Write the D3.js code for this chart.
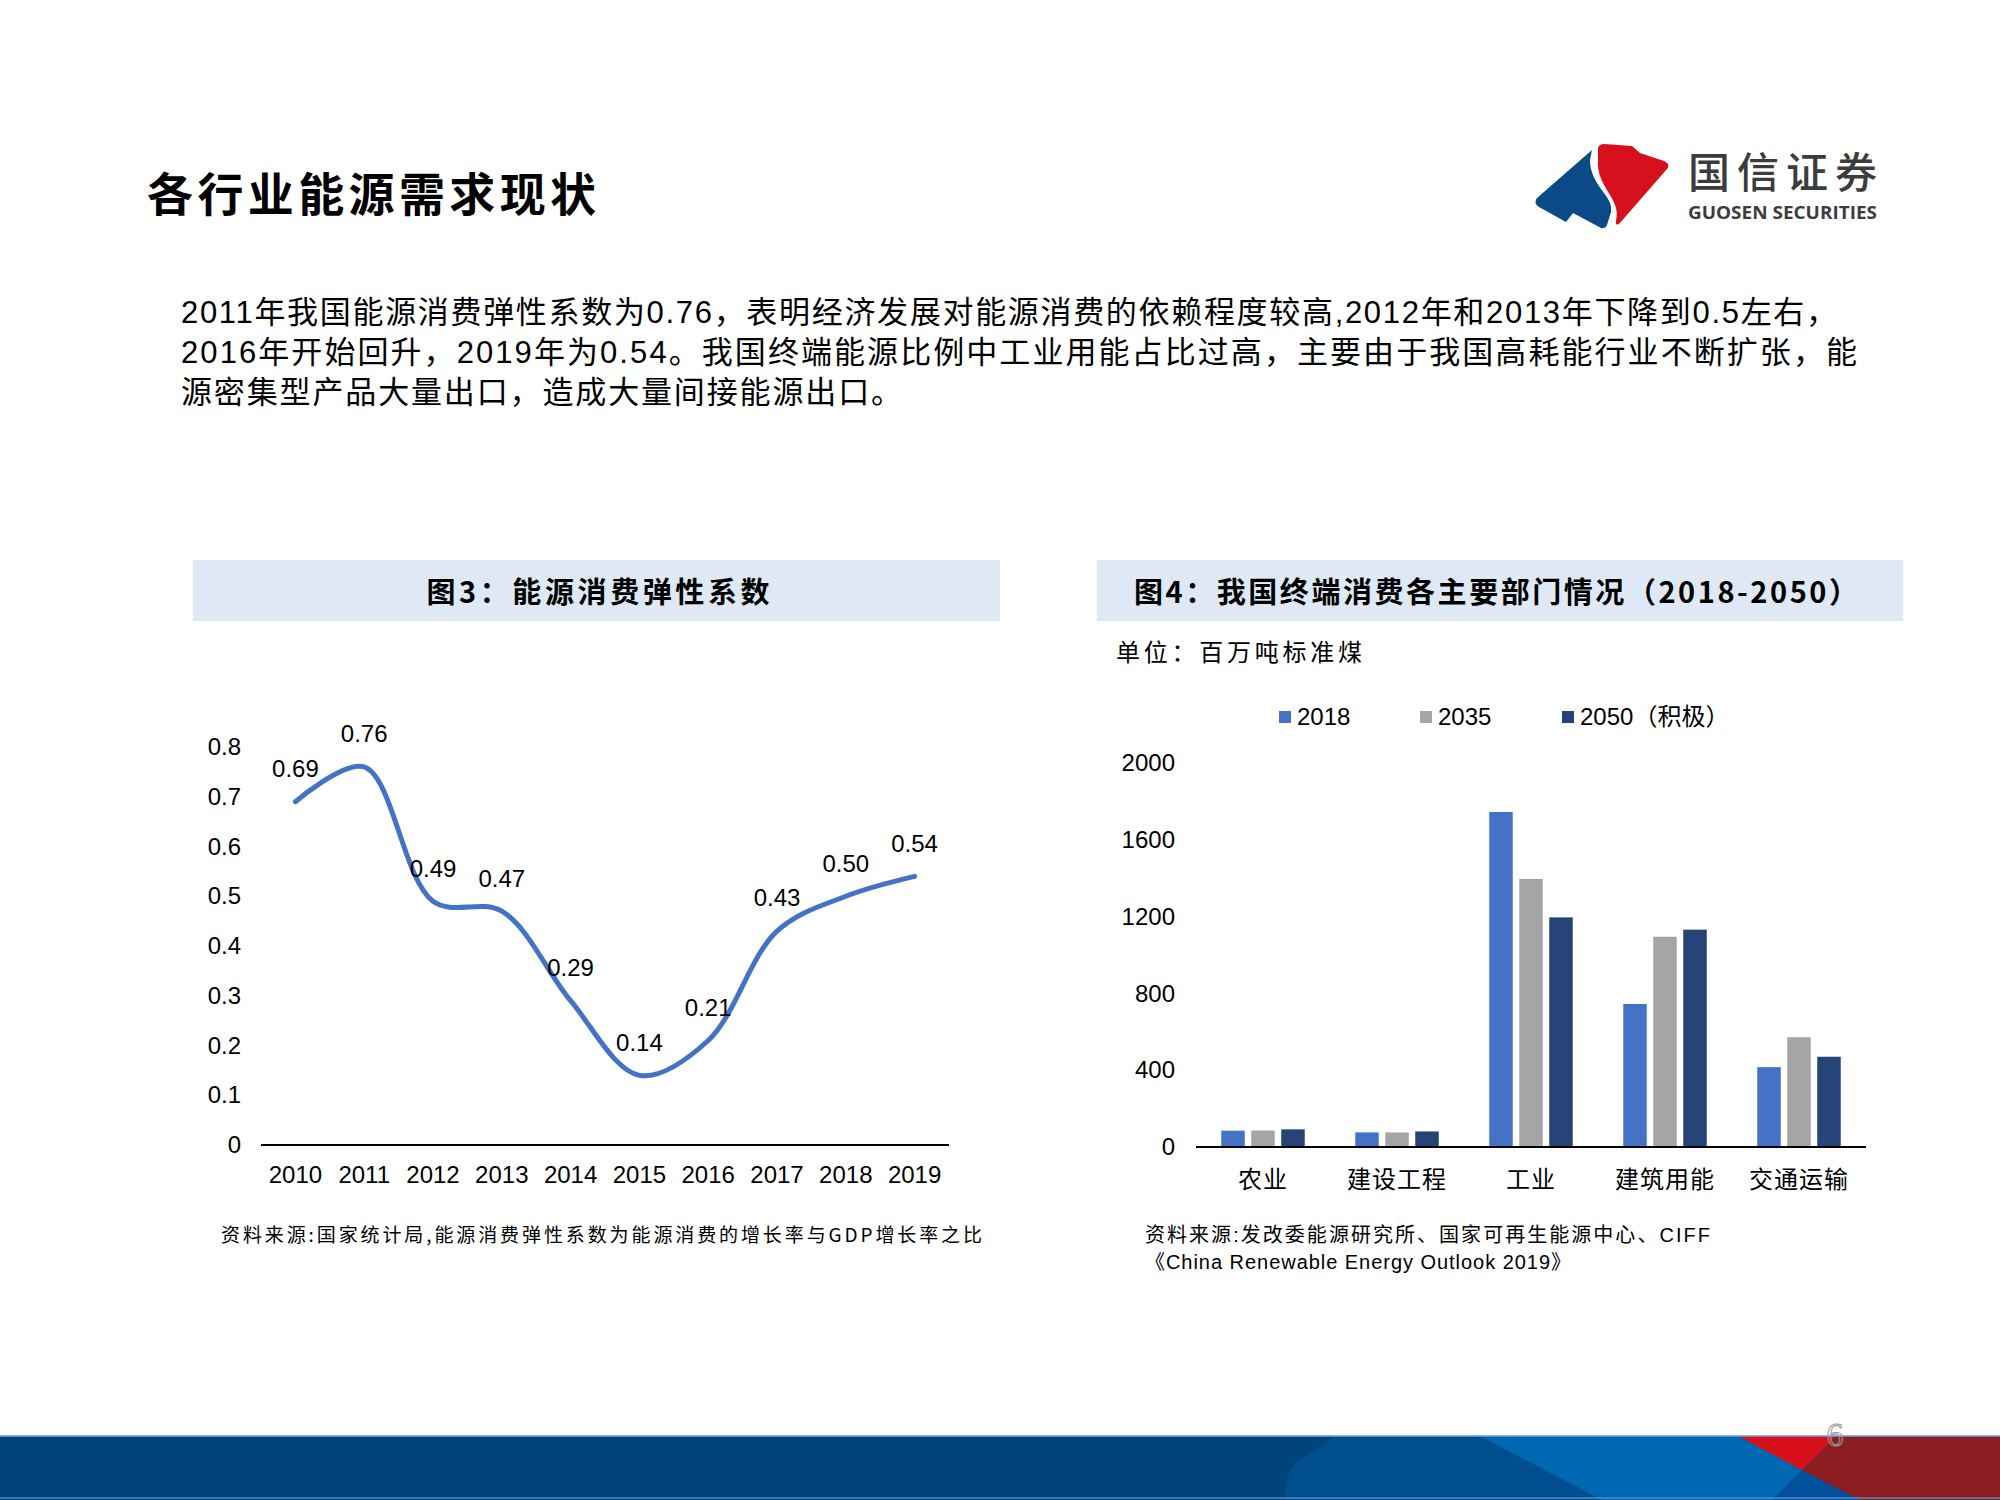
<!DOCTYPE html>
<html><head><meta charset="utf-8">
<script src="https://cdn.jsdelivr.net/npm/d3@7/dist/d3.min.js"></script>
<style>body{margin:0;background:#fff}svg{display:block}</style>
</head><body><svg id="c" width="2000" height="1500"></svg>
<script>
// ---------- data ----------
const years = ["2010","2011","2012","2013","2014","2015","2016","2017","2018","2019"];
const elasticity = [0.69,0.76,0.49,0.47,0.29,0.14,0.21,0.43,0.50,0.54];
const elasticityLabels = ["0.69","0.76","0.49","0.47","0.29","0.14","0.21","0.43","0.50","0.54"];
const elasticityTicks = [0,0.1,0.2,0.3,0.4,0.5,0.6,0.7,0.8];
const elasticityTickLabels = ["0","0.1","0.2","0.3","0.4","0.5","0.6","0.7","0.8"];

const sectors = ["农业","建设工程","工业","建筑用能","交通运输"];
const seriesNames = ["2018","2035","2050（积极）"];
const values2018 = [85,76,1745,745,416];
const values2035 = [86,76,1396,1095,572];
const values2050 = [92,81,1196,1132,470];
const sectorTicks = [0,400,800,1200,1600,2000];
const sectorTickLabels = ["0","400","800","1200","1600","2000"];

const pageTitle = "各行业能源需求现状";
const paragraph = [
  "2011年我国能源消费弹性系数为0.76，表明经济发展对能源消费的依赖程度较高,2012年和2013年下降到0.5左右，",
  "2016年开始回升，2019年为0.54。我国终端能源比例中工业用能占比过高，主要由于我国高耗能行业不断扩张，能",
  "源密集型产品大量出口，造成大量间接能源出口。"
];
const chart3Title = "图3：能源消费弹性系数";
const chart4Title = "图4：我国终端消费各主要部门情况（2018-2050）";
const chart4Unit = "单位：百万吨标准煤";
const chart3Source = "资料来源:国家统计局,能源消费弹性系数为能源消费的增长率与GDP增长率之比";
const chart4Source = ["资料来源:发改委能源研究所、国家可再生能源中心、CIFF","《China Renewable Energy Outlook 2019》"];

// ---------- drawing ----------
const svg = d3.select("#c");
const FONT = "'Liberation Sans','Noto Sans CJK SC',Arial,sans-serif";
const CJK = "'Noto Sans CJK SC','Liberation Sans',sans-serif";

svg.append("rect").attr("width",2000).attr("height",1500).attr("fill","#fff");

// page title
svg.append("text").attr("x",147).attr("y",211).text(pageTitle)
  .attr("font-family",CJK).attr("font-weight",700).attr("font-size",46)
  .attr("textLength",449).attr("lengthAdjust","spacing").attr("fill","#000");

// logo
const logo = svg.append("g");
logo.append("path").attr("d","M1537,198 Q1533,203 1539,207 L1566,222 L1573,213 L1601,228 Q1605,229 1607,225 L1611,212 C1614,196 1590,186 1590,160 L1592,150 Z").attr("fill","#0a4a86");
logo.append("path").attr("d","M1598,148 Q1599,144 1604,144 L1632,146 L1640,153 L1664,161 Q1671,164 1667,169 L1619,224 Q1615,226 1616,221 C1622,198 1596,188 1598,160 Z").attr("fill","#d7101d");
logo.append("text").attr("x",1688).attr("y",188).text("国信证券")
  .attr("font-family",CJK).attr("font-weight",500).attr("font-size",42)
  .attr("textLength",189).attr("lengthAdjust","spacing").attr("fill","#3c3c3c");
logo.append("text").attr("x",1688).attr("y",219).text("GUOSEN SECURITIES")
  .attr("font-family","'Open Sans','Liberation Sans',sans-serif").attr("font-weight",700).attr("font-size",17)
  .attr("textLength",189).attr("lengthAdjust","spacingAndGlyphs").attr("fill","#3c3c3c");

// paragraph
const paraWidths = [1656,1676,721];
paragraph.forEach((line,i)=>{
  svg.append("text").attr("x",181).attr("y",323+i*40).text(line)
    .attr("font-family",FONT).attr("font-size",31).attr("fill","#000")
    .attr("textLength",paraWidths[i]).attr("lengthAdjust","spacing");
});

// ---------- chart 3 ----------
svg.append("rect").attr("x",193).attr("y",560).attr("width",807).attr("height",61).attr("fill","#dee9f5");
svg.append("text").attr("x",598).attr("y",603).attr("text-anchor","middle").text(chart3Title)
  .attr("font-family",CJK).attr("font-weight",700).attr("font-size",29).attr("fill","#000")
  .attr("textLength",343).attr("lengthAdjust","spacing");

const x3 = d3.scaleBand().domain(years).range([261,949]);
const y3 = d3.scaleLinear().domain([0,0.8]).range([1145,747]);

const ax3y = svg.append("g").attr("transform","translate(261,0)")
  .call(d3.axisLeft(y3).tickValues(elasticityTicks).tickSize(0).tickPadding(20)
    .tickFormat((d,i)=>elasticityTickLabels[i]));
ax3y.select(".domain").remove();
ax3y.selectAll("text").attr("font-family",FONT).attr("font-size",24).attr("fill","#000");

const ax3x = svg.append("g").attr("transform","translate(0,1145)")
  .call(d3.axisBottom(x3).tickSize(0).tickPadding(21));
ax3x.select(".domain").remove();
ax3x.selectAll("text").attr("font-family",FONT).attr("font-size",24).attr("fill","#000");
svg.append("line").attr("x1",261).attr("x2",949).attr("y1",1145).attr("y2",1145)
  .attr("stroke","#000").attr("stroke-width",2);

const line3 = d3.line().x((d,i)=>x3(years[i])+x3.bandwidth()/2).y(d=>y3(d))
  .curve(d3.curveCatmullRom.alpha(0.5));
svg.append("path").datum(elasticity).attr("d",line3).attr("fill","none")
  .attr("stroke","#4472c4").attr("stroke-width",5).attr("stroke-linecap","round");

svg.append("g").selectAll("text").data(elasticity).join("text")
  .attr("x",(d,i)=>x3(years[i])+x3.bandwidth()/2).attr("y",d=>y3(d)-33).attr("dy","0.35em")
  .attr("text-anchor","middle").text((d,i)=>elasticityLabels[i])
  .attr("font-family",FONT).attr("font-size",24).attr("fill","#000");

svg.append("text").attr("x",221).attr("y",1242).text(chart3Source)
  .attr("font-family",CJK).attr("font-size",19).attr("fill","#000")
  .attr("textLength",761).attr("lengthAdjust","spacing");

// ---------- chart 4 ----------
svg.append("rect").attr("x",1097).attr("y",560).attr("width",806).attr("height",61).attr("fill","#dee9f5");
svg.append("text").attr("x",1496).attr("y",603).attr("text-anchor","middle").text(chart4Title)
  .attr("font-family",CJK).attr("font-weight",700).attr("font-size",29).attr("fill","#000")
  .attr("textLength",724).attr("lengthAdjust","spacing");
svg.append("text").attr("x",1116).attr("y",661).text(chart4Unit)
  .attr("font-family",CJK).attr("font-size",24).attr("fill","#000")
  .attr("textLength",246).attr("lengthAdjust","spacing");

const colors = ["#4472c4","#a5a5a5","#264478"];
const x4 = d3.scaleBand().domain(sectors).range([1196,1866]).paddingInner(0.377).paddingOuter(0.1885);
const x4s = d3.scaleBand().domain(seriesNames).range([0,x4.bandwidth()]).paddingInner(0.217);
const y4 = d3.scaleLinear().domain([0,2000]).range([1147,763]);

const ax4y = svg.append("g").attr("transform","translate(1196,0)")
  .call(d3.axisLeft(y4).tickValues(sectorTicks).tickSize(0).tickPadding(21)
    .tickFormat((d,i)=>sectorTickLabels[i]));
ax4y.select(".domain").remove();
ax4y.selectAll("text").attr("font-family",FONT).attr("font-size",24).attr("fill","#000");

const allSeries = [values2018,values2035,values2050];
const rows = sectors.map((s,i)=>({sector:s, vals:allSeries.map((arr,k)=>({name:seriesNames[k],v:arr[i],c:colors[k]}))}));
svg.append("g").selectAll("g").data(rows).join("g")
  .attr("transform",d=>`translate(${x4(d.sector)},0)`)
  .selectAll("rect").data(d=>d.vals).join("rect")
  .attr("x",d=>x4s(d.name)).attr("width",x4s.bandwidth())
  .attr("y",d=>y4(d.v)).attr("height",d=>y4(0)-y4(d.v)).attr("fill",d=>d.c);

const ax4x = svg.append("g").attr("transform","translate(0,1147)")
  .call(d3.axisBottom(x4).tickSize(0).tickPadding(24));
ax4x.select(".domain").remove();
ax4x.selectAll("text").attr("font-family",CJK).attr("font-size",24).attr("fill","#000")
  .attr("letter-spacing",1);
svg.append("line").attr("x1",1196).attr("x2",1866).attr("y1",1147).attr("y2",1147)
  .attr("stroke","#000").attr("stroke-width",2);

// legend
const legX = [1279,1420,1562];
const leg = svg.append("g").selectAll("g").data(seriesNames).join("g")
  .attr("transform",(d,i)=>`translate(${legX[i]},717)`);
leg.append("rect").attr("x",0).attr("y",-6).attr("width",12).attr("height",12).attr("fill",(d,i)=>colors[i]);
leg.append("text").attr("x",18).attr("dy","0.35em").text(d=>d)
  .attr("font-family",FONT).attr("font-size",24).attr("fill","#000");

svg.append("text").attr("x",1145).attr("y",1242).text(chart4Source[0])
  .attr("font-family",FONT).attr("font-size",20).attr("fill","#000")
  .attr("textLength",565).attr("lengthAdjust","spacing");
svg.append("text").attr("x",1145).attr("y",1269).text(chart4Source[1])
  .attr("font-family",FONT).attr("font-size",20).attr("fill","#000")
  .attr("textLength",426).attr("lengthAdjust","spacing");

// ---------- footer ----------
const ft = svg.append("g");
ft.append("rect").attr("x",0).attr("y",1436).attr("width",2000).attr("height",64).attr("fill","#01447b");
ft.append("path").attr("d","M1334,1436 L2000,1436 L2000,1500 L1285,1500 Q1284,1475 1296,1462 Z").attr("fill","#004e8e");
ft.append("path").attr("d","M1480,1436 L2000,1436 L2000,1500 L1602,1500 Z").attr("fill","#0067b3");
ft.append("path").attr("d","M1772,1500 L1860,1500 L1802,1470 Z").attr("fill","#01519a");
ft.append("path").attr("d","M1738,1436 L1836,1436 L1802,1470 Z").attr("fill","#d60f1b");
ft.append("path").attr("d","M1836,1436 L2000,1436 L2000,1500 L1860,1500 L1802,1470 Z").attr("fill","#8b1c20");
ft.append("rect").attr("x",0).attr("y",1435).attr("width",2000).attr("height",2).attr("fill","#6f9fd6").attr("opacity",0.8);
ft.append("rect").attr("x",0).attr("y",1497).attr("width",2000).attr("height",2).attr("fill","#5d8fc8").attr("opacity",0.7);
svg.append("text").attr("x",1835).attr("y",1446).attr("text-anchor","middle").text("6")
  .attr("font-family","'Liberation Serif',serif").attr("font-size",34)
  .attr("fill","#fff").attr("fill-opacity",0.1).attr("stroke","#999").attr("stroke-width",1);
</script>
</body></html>
